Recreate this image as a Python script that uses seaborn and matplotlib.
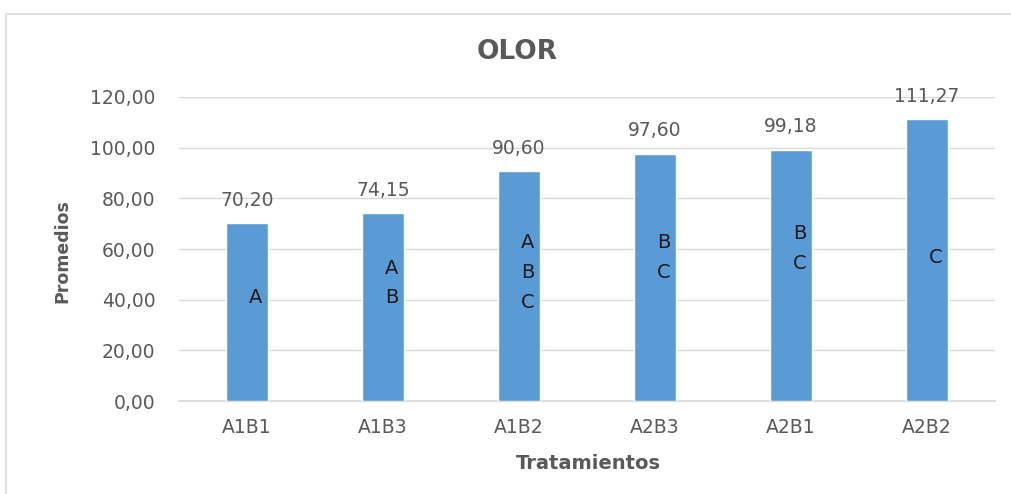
import pandas as pd
import matplotlib.pyplot as plt
import seaborn as sns
from matplotlib.ticker import FuncFormatter

# Datos del gráfico
tratamientos = ["A1B1", "A1B3", "A1B2", "A2B3", "A2B1", "A2B2"]
promedios = [70.20, 74.15, 90.60, 97.60, 99.18, 111.27]
letras = [["A"], ["A", "B"], ["A", "B", "C"], ["B", "C"], ["B", "C"], ["C"]]

# Posición vertical (en unidades del eje) de la primera letra de cada grupo
letra_y0 = [41, 52.5, 62.4, 62.4, 66, 56.5]
paso_letra = 11.8

azul = "#5B9BD5"
gris = "#595959"

df = pd.DataFrame({"Tratamiento": tratamientos, "Promedio": promedios})

sns.set_theme(style="white")
plt.rcParams["font.family"] = ["DejaVu Sans"]

fig = plt.figure(figsize=(10.11, 4.94), dpi=100)
ax = fig.add_axes([179 / 1011, 1 - 401 / 494, (995 - 179) / 1011, (401 - 97) / 494])

sns.barplot(data=df, x="Tratamiento", y="Promedio", color=azul, saturation=1,
            width=0.31, ax=ax, zorder=3)

ax.set_ylim(0, 120)
ax.set_xlim(-0.5, 5.5)
ax.set_yticks(range(0, 121, 20))
ax.yaxis.set_major_formatter(FuncFormatter(lambda v, p: f"{v:.2f}".replace(".", ",")))
ax.grid(axis="y", color="#D9D9D9", linewidth=1, zorder=0)
for s in ["top", "right", "left"]:
    ax.spines[s].set_visible(False)
ax.spines["bottom"].set_color("#D9D9D9")
ax.tick_params(axis="both", length=0, labelsize=13.5, labelcolor=gris)
ax.tick_params(axis="x", pad=12)
ax.tick_params(axis="y", pad=17)

# Etiquetas de valor sobre cada barra
for i, v in enumerate(promedios):
    ax.text(i, v + 9, f"{v:.2f}".replace(".", ","), ha="center", va="center",
            fontsize=13.5, color=gris, clip_on=False)

# Letras de significancia dentro de las barras
for i, grupo in enumerate(letras):
    for j, l in enumerate(grupo):
        ax.text(i + 0.066, letra_y0[i] - j * paso_letra, l, ha="center", va="center",
                fontsize=14, color="#1A1A1A")

ax.set_xlabel("Tratamientos", fontsize=14, fontweight="bold", color=gris, va="center")
ax.xaxis.set_label_coords((588 - 179) / 816, (401 - 463) / 304)
ax.set_ylabel("Promedios", fontsize=12.5, fontweight="bold", color=gris, va="center")
ax.yaxis.set_label_coords((62 - 179) / 816, (401 - 251) / 304)
fig.text(517 / 1011, 1 - 52 / 494, "OLOR", ha="center", va="center",
         fontsize=19, fontweight="bold", color=gris)

# Borde del área del gráfico
fig.add_artist(plt.Line2D([6 / 1011, 1.01], [1 - 14 / 494] * 2, color="#D9D9D9", lw=1.2))
fig.add_artist(plt.Line2D([6 / 1011] * 2, [-0.01, 1 - 14 / 494], color="#D9D9D9", lw=1.2))

fig.savefig("out.png", dpi=100)
